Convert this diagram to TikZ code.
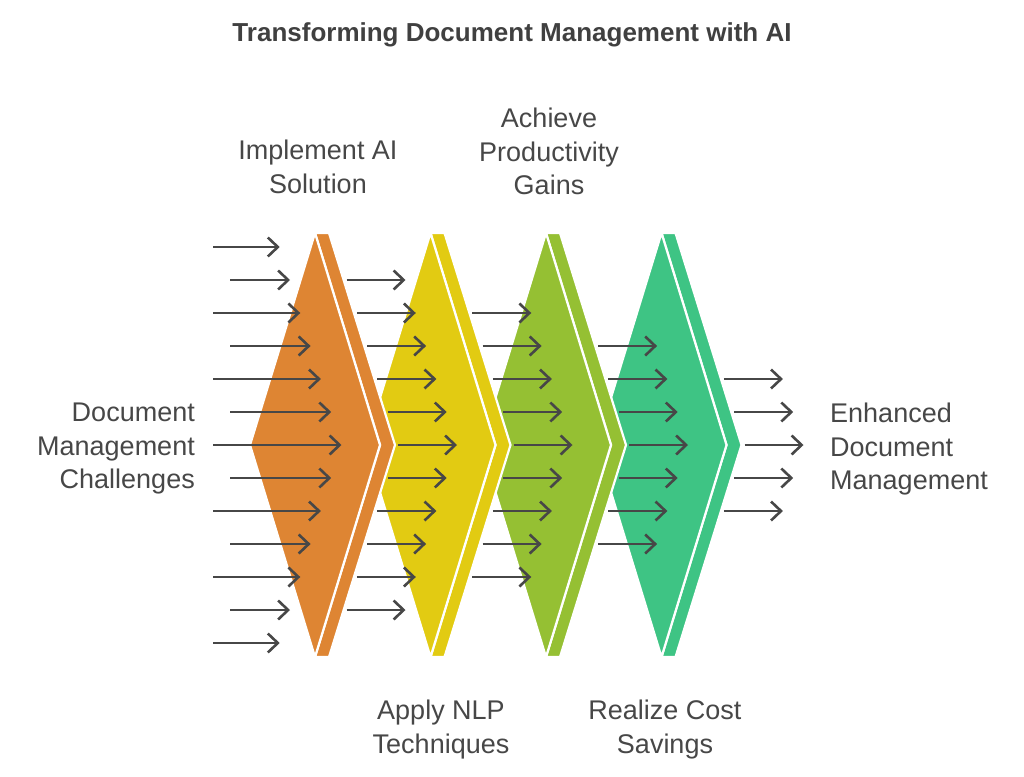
\documentclass[tikz,border=0pt]{standalone}
\usepackage{fontspec}
\setmainfont{Liberation Sans}
\usepackage{xcolor}
\usetikzlibrary{arrows.meta}
\definecolor{stageorange}{HTML}{DE8533}
\definecolor{stageyellow}{HTML}{E2CB12}
\definecolor{stagegreen}{HTML}{95C033}
\definecolor{stageteal}{HTML}{3EC484}
\definecolor{inkgray}{HTML}{474747}

\begin{document}
\begin{tikzpicture}[x=1pt, y=-1pt,
    titletext/.style={font=\bfseries\fontsize{26}{30}\selectfont, text=inkgray!90!black, inner sep=0pt},
    stagetext/.style={font=\fontsize{27}{33.5}\selectfont, text=inkgray, inner sep=0pt, align=center},
    band/.style={draw=white, line width=2.2pt, line join=miter},
    flow/.style={-{Straight Barb[length=10pt, width=19pt]}, line width=2.6pt, draw=inkgray}
]
\useasboundingbox (0,0) rectangle (1024,776);

% title
\node[titletext, anchor=north] (title) at (512,22) {Transforming Document Management with AI};

% stages, drawn right to left so each band lies over the next one
\foreach \tx/\col in {661.5/stageteal, 546/stagegreen, 430.5/stageyellow, 315/stageorange} {
  \fill[\col, band] (\tx,233) -- (\tx+14,233) -- (\tx+80,445) -- (\tx+14,657) -- (\tx,657) -- (\tx+65,445) -- cycle;
  \filldraw[fill=\col, band] (\tx-65,445) -- (\tx,233) -- (\tx+65,445) -- (\tx,657) -- cycle;
}

% flow arrows
\foreach \g in {0,...,4} {
  \pgfmathtruncatemacro{\n}{6-\g}
  \foreach \d in {-\n,...,\n} {
    \pgfmathsetmacro{\yy}{445+33*(\d)}
    \pgfmathsetmacro{\xe}{341.5+115.5*\g-10.3*abs(\d)}
    \pgfmathsetmacro{\xs}{(\g==0) ? ((mod(abs(\d),2)==1) ? 230 : 213) : (\xe-59)}
    \draw[flow] (\xs,\yy) -- (\xe,\yy);
  }
}

% side labels
\node[stagetext, anchor=north east, align=right] (challenges) at (195,403) {Document\\Management\\Challenges};
\node[stagetext, anchor=north west, align=left] (enhanced) at (830,403) {Enhanced\\Document\\Management};

% step labels
\node[stagetext, anchor=north] (implement) at (318,140) {Implement AI\\Solution};
\node[stagetext, anchor=north] (achieve) at (549,108) {Achieve\\Productivity\\Gains};
\node[stagetext, anchor=north] (apply) at (441,700) {Apply NLP\\Techniques};
\node[stagetext, anchor=north] (realize) at (665,700) {Realize Cost\\Savings};
\end{tikzpicture}
\end{document}
